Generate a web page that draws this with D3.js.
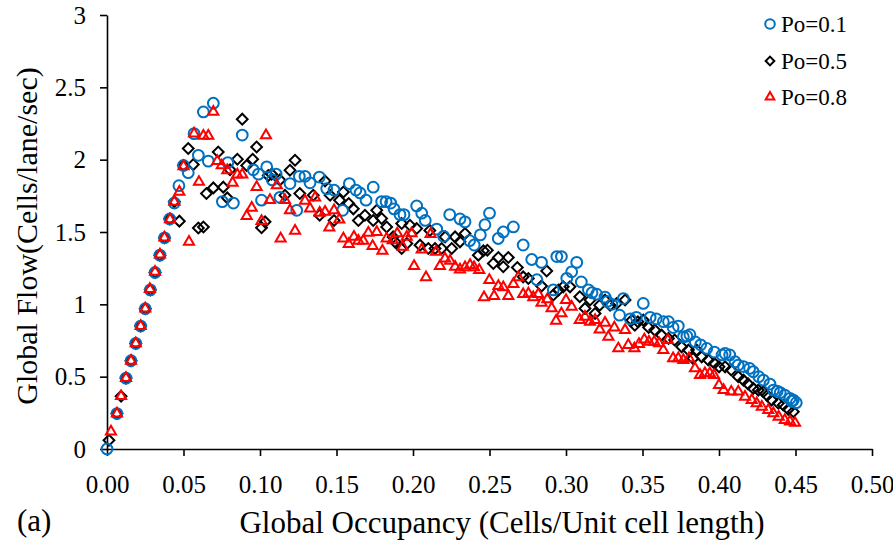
<!DOCTYPE html>
<html>
<head>
<meta charset="utf-8">
<script src="https://cdn.jsdelivr.net/npm/d3@7"></script>
<style>
  body { margin: 0; background: #fff; }
  text { font-family: "Liberation Serif", "Times New Roman", serif; }
</style>
</head>
<body>
<div id="chart"></div>
<script>
// [occupancy, flow] pairs
const po01 = [
  [0, 0], [0.0065, 0.245], [0.0124, 0.49], [0.0157, 0.61], [0.0188, 0.73], [0.022, 0.85],
  [0.025, 0.97], [0.0283, 1.10], [0.0314, 1.22], [0.0346, 1.34], [0.0376, 1.46], [0.041, 1.59],
  [0.044, 1.70], [0.047, 1.82], [0.050, 1.96], [0.0531, 1.91], [0.0569, 2.18], [0.0597, 2.03],
  [0.063, 2.33], [0.0662, 1.99], [0.0695, 2.39], [0.0754, 1.71], [0.079, 1.98], [0.0826, 1.70],
  [0.0884, 2.17], [0.0956, 1.93], [0.099, 1.90], [0.101, 1.72], [0.1044, 1.95], [0.108, 1.86],
  [0.1105, 1.90], [0.113, 1.74], [0.1196, 1.835], [0.124, 1.65], [0.1257, 1.885], [0.1294, 1.885],
  [0.1327, 1.84], [0.1388, 1.88], [0.1436, 1.80], [0.1484, 1.79], [0.154, 1.65], [0.1584, 1.835],
  [0.1627, 1.79], [0.1654, 1.77], [0.1693, 1.72], [0.174, 1.81], [0.1795, 1.71], [0.1824, 1.71],
  [0.1854, 1.70], [0.1876, 1.66], [0.1915, 1.62], [0.1941, 1.62], [0.2024, 1.68], [0.2057, 1.63],
  [0.208, 1.58], [0.2155, 1.52], [0.22, 1.47], [0.224, 1.62], [0.2307, 1.59], [0.234, 1.57],
  [0.237, 1.44], [0.240, 1.41], [0.244, 1.48], [0.247, 1.55], [0.250, 1.63], [0.2557, 1.455],
  [0.259, 1.50], [0.2656, 1.535], [0.272, 1.41], [0.2776, 1.31], [0.281, 1.17], [0.284, 1.29],
  [0.2917, 1.10], [0.294, 1.33], [0.297, 1.33], [0.3005, 1.18], [0.3037, 1.225], [0.307, 1.29],
  [0.310, 1.155], [0.3146, 1.10], [0.317, 1.08], [0.320, 1.07], [0.3255, 1.05], [0.327, 1.02],
  [0.330, 1.00], [0.335, 0.925], [0.3375, 1.04], [0.342, 0.90], [0.346, 0.91], [0.3505, 1.006],
  [0.355, 0.91], [0.359, 0.90], [0.3636, 0.88], [0.367, 0.88], [0.370, 0.84], [0.3734, 0.85],
  [0.3767, 0.775], [0.379, 0.78], [0.381, 0.79], [0.3845, 0.74], [0.388, 0.72], [0.392, 0.695],
  [0.397, 0.67], [0.402, 0.65], [0.404, 0.66], [0.407, 0.65], [0.4105, 0.603], [0.4125, 0.58],
  [0.416, 0.57], [0.420, 0.557], [0.4224, 0.534], [0.426, 0.50], [0.429, 0.476], [0.4333, 0.449],
  [0.4355, 0.407], [0.438, 0.40], [0.440, 0.39], [0.443, 0.373], [0.4464, 0.35], [0.4475, 0.33],
  [0.4486, 0.338], [0.4505, 0.32]
];

const po05 = [
  [0.0013, 0.06], [0.0065, 0.245], [0.0092, 0.365], [0.0124, 0.49], [0.0157, 0.61], [0.0188, 0.73],
  [0.022, 0.85], [0.025, 0.97], [0.0283, 1.10], [0.0314, 1.22], [0.0346, 1.34], [0.0376, 1.46],
  [0.041, 1.59], [0.044, 1.71], [0.0473, 1.575], [0.05, 1.96], [0.0531, 2.077], [0.0564, 1.966],
  [0.0597, 1.528], [0.063, 1.535], [0.065, 1.766], [0.0695, 1.805], [0.0727, 2.053], [0.076, 1.81],
  [0.0786, 1.736], [0.0804, 1.93], [0.0852, 2.003], [0.0884, 2.28], [0.0913, 1.96], [0.0952, 2.003],
  [0.0978, 2.088], [0.101, 1.53], [0.1033, 1.57], [0.1054, 1.89], [0.1076, 1.90], [0.113, 1.86],
  [0.1163, 1.754], [0.1196, 1.927], [0.1229, 1.996], [0.126, 1.766], [0.1348, 1.754], [0.139, 1.616],
  [0.1425, 1.853], [0.1458, 1.754], [0.1484, 1.58], [0.152, 1.72], [0.1545, 1.777], [0.158, 1.697],
  [0.161, 1.66], [0.1643, 1.58], [0.1686, 1.616], [0.174, 1.58], [0.1763, 1.65], [0.1795, 1.593],
  [0.1828, 1.535], [0.187, 1.466], [0.1882, 1.432], [0.1926, 1.559], [0.1926, 1.386], [0.196, 1.42],
  [0.198, 1.547], [0.2024, 1.524], [0.2046, 1.409], [0.210, 1.386], [0.211, 1.51], [0.2144, 1.386],
  [0.2187, 1.386], [0.221, 1.466], [0.2253, 1.386], [0.2275, 1.466], [0.2307, 1.432], [0.234, 1.49],
  [0.2427, 1.34], [0.246, 1.37], [0.2486, 1.374], [0.2525, 1.282], [0.2558, 1.324], [0.259, 1.26],
  [0.2623, 1.324], [0.2682, 1.255], [0.272, 1.19], [0.2754, 1.179], [0.284, 1.126], [0.2874, 1.231],
  [0.2917, 1.064], [0.295, 1.098], [0.2982, 1.121], [0.3026, 1.121], [0.309, 1.052], [0.3124, 0.972],
  [0.3157, 1.03], [0.319, 0.937], [0.322, 0.994], [0.3255, 1.03], [0.3288, 0.994], [0.3331, 1.006],
  [0.3386, 1.03], [0.343, 0.89], [0.345, 0.856], [0.347, 0.88], [0.3505, 0.891], [0.354, 0.84],
  [0.358, 0.822], [0.3625, 0.787], [0.367, 0.764], [0.371, 0.753], [0.3756, 0.706], [0.38, 0.684],
  [0.383, 0.626], [0.3854, 0.684], [0.3887, 0.637], [0.393, 0.615], [0.397, 0.592], [0.40, 0.568],
  [0.404, 0.568], [0.408, 0.546], [0.4126, 0.50], [0.416, 0.476], [0.419, 0.45], [0.4224, 0.419],
  [0.4257, 0.407], [0.429, 0.396], [0.4315, 0.37], [0.4344, 0.338], [0.4388, 0.316], [0.442, 0.304],
  [0.4453, 0.274], [0.4486, 0.258]
];

const po08 = [
  [0.0026, 0.12], [0.0065, 0.245], [0.0092, 0.365], [0.0124, 0.49], [0.0157, 0.61], [0.0188, 0.73],
  [0.022, 0.85], [0.025, 0.97], [0.028, 1.105], [0.0314, 1.224], [0.0346, 1.344], [0.0375, 1.462],
  [0.0412, 1.588], [0.044, 1.708], [0.0473, 1.777], [0.05, 1.954], [0.0536, 1.432], [0.0569, 2.18],
  [0.0601, 1.846], [0.063, 2.164], [0.0662, 2.164], [0.0695, 2.33], [0.0721, 1.99], [0.075, 1.96],
  [0.0786, 1.927], [0.0821, 1.84], [0.0852, 1.897], [0.0884, 1.897], [0.0913, 1.61], [0.0946, 1.667],
  [0.0978, 1.81], [0.101, 1.575], [0.1039, 2.168], [0.1065, 1.72], [0.111, 1.823], [0.1135, 1.455],
  [0.1163, 1.72], [0.1196, 1.65], [0.1229, 1.508], [0.1294, 1.715], [0.1327, 1.662], [0.136, 1.738],
  [0.139, 1.632], [0.1425, 1.64], [0.1453, 1.531], [0.1484, 1.65], [0.1518, 1.586], [0.1545, 1.455],
  [0.158, 1.416], [0.1614, 1.466], [0.1643, 1.439], [0.1675, 1.439], [0.1708, 1.494], [0.1736, 1.402],
  [0.1763, 1.50], [0.180, 1.37], [0.1828, 1.455], [0.1867, 1.443], [0.1897, 1.49], [0.1933, 1.397],
  [0.1959, 1.466], [0.1991, 1.49], [0.2007, 1.264], [0.2057, 1.379], [0.2085, 1.186], [0.2115, 1.485],
  [0.215, 1.363], [0.2176, 1.264], [0.2209, 1.317], [0.2242, 1.30], [0.2275, 1.259], [0.2307, 1.241],
  [0.234, 1.255], [0.2373, 1.271], [0.2399, 1.255], [0.2433, 1.236], [0.2464, 1.048], [0.2499, 1.167],
  [0.253, 1.057], [0.2558, 1.126], [0.259, 1.117], [0.2623, 1.057], [0.2656, 1.14], [0.2688, 1.186],
  [0.272, 1.07], [0.2754, 1.075], [0.2786, 1.048], [0.2819, 1.07], [0.284, 1.01], [0.2878, 1.034],
  [0.2906, 0.972], [0.2935, 0.886], [0.297, 0.937], [0.300, 1.03], [0.3037, 0.983], [0.309, 0.891],
  [0.3124, 0.914], [0.3157, 0.879], [0.319, 0.891], [0.322, 0.826], [0.3255, 0.872], [0.3277, 0.776],
  [0.3316, 0.84], [0.3342, 0.695], [0.3386, 0.822], [0.3407, 0.718], [0.3447, 0.695], [0.3477, 0.725],
  [0.3512, 0.757], [0.3542, 0.741], [0.3577, 0.741], [0.3608, 0.73], [0.3636, 0.684], [0.3665, 0.753],
  [0.370, 0.626], [0.3734, 0.626], [0.3767, 0.615], [0.3804, 0.626], [0.3843, 0.557], [0.3876, 0.511],
  [0.3908, 0.523], [0.394, 0.523], [0.3967, 0.511], [0.40, 0.442], [0.403, 0.407], [0.408, 0.396],
  [0.4126, 0.396], [0.417, 0.361], [0.4214, 0.338], [0.4246, 0.316], [0.428, 0.292], [0.4322, 0.269],
  [0.4355, 0.246], [0.439, 0.223], [0.443, 0.20], [0.4464, 0.189], [0.4497, 0.18]
];

const seriesNames = ["Po=0.1", "Po=0.5", "Po=0.8"];
const xTicks = [0, 0.05, 0.1, 0.15, 0.2, 0.25, 0.3, 0.35, 0.4, 0.45, 0.5];
const yTicks = [0, 0.5, 1, 1.5, 2, 2.5, 3];

const w = 893, h = 547;
const padLeft = 107, padRight = 872, padTop = 15, padBottom = 449;
const serif = "'Liberation Serif', 'Times New Roman', serif";

const svg = d3.select("#chart").append("svg")
  .attr("width", w)
  .attr("height", h)
  .style("background-color", "#fff");

const xScale = d3.scaleLinear().domain([0, 0.5]).range([padLeft, padRight]);
const yScale = d3.scaleLinear().domain([0, 3]).range([padBottom, padTop]);

const xAxis = d3.axisBottom(xScale).tickValues(xTicks).tickFormat(d3.format(".2f")).tickSize(7).tickSizeOuter(0).tickPadding(19);
const yAxis = d3.axisLeft(yScale).tickValues(yTicks).tickFormat(d => String(d)).tickSize(7).tickSizeOuter(0).tickPadding(14);

const gx = svg.append("g").attr("transform", "translate(0," + padBottom + ")").call(xAxis);
const gy = svg.append("g").attr("transform", "translate(" + padLeft + ",0)").call(yAxis);
[gx, gy].forEach(g => {
  g.select(".domain").attr("stroke", "#000").attr("stroke-width", 1.6);
  g.selectAll(".tick line").attr("stroke", "#000").attr("stroke-width", 1.6);
  g.selectAll(".tick text").attr("fill", "#000").style("font-size", "25px")
    .style("font-family", serif);
});

// markers
const circleColor = "#0070C0", triColor = "#FF0000";
const diamond = d3.symbol().type(d3.symbolSquare).size(58);

svg.append("g").selectAll("path")
  .data(po05).enter().append("path")
  .attr("d", diamond)
  .attr("transform", d => "translate(" + xScale(d[0]) + "," + yScale(d[1]) + ") rotate(45)")
  .attr("fill", "none").attr("stroke", "#000").attr("stroke-width", 2);

svg.append("g").selectAll("circle")
  .data(po01).enter().append("circle")
  .attr("cx", d => xScale(d[0]))
  .attr("cy", d => yScale(d[1]))
  .attr("r", 5.4)
  .attr("fill", "none").attr("stroke", circleColor).attr("stroke-width", 2);

const tri = d3.symbol().type(d3.symbolTriangle).size(44);
svg.append("g").selectAll("path")
  .data(po08).enter().append("path")
  .attr("d", tri)
  .attr("transform", d => "translate(" + xScale(d[0]) + "," + yScale(d[1]) + ")")
  .attr("fill", "none").attr("stroke", triColor).attr("stroke-width", 2);

// legend
const legend = svg.append("g").attr("transform", "translate(770,0)");
const legY = [24, 61, 97];
legend.append("circle").attr("cx", 0).attr("cy", legY[0]).attr("r", 4.8)
  .attr("fill", "none").attr("stroke", circleColor).attr("stroke-width", 2);
legend.append("path").attr("d", d3.symbol().type(d3.symbolSquare).size(38))
  .attr("transform", "translate(0," + legY[1] + ") rotate(45)")
  .attr("fill", "none").attr("stroke", "#000").attr("stroke-width", 2);
legend.append("path").attr("d", d3.symbol().type(d3.symbolTriangle).size(32))
  .attr("transform", "translate(0," + legY[2] + ")")
  .attr("fill", "none").attr("stroke", triColor).attr("stroke-width", 2);
legend.selectAll("text.leg").data(seriesNames).enter().append("text")
  .attr("class", "leg")
  .attr("x", 11)
  .attr("y", (d, i) => legY[i] + 8)
  .style("font-size", "23px")
  .text(d => d);

// titles
svg.append("text")
  .attr("transform", "translate(37," + 236 + ") rotate(-90)")
  .attr("text-anchor", "middle")
  .style("font-size", "30px")
  .text("Global Flow(Cells/lane/sec)");

svg.append("text")
  .attr("x", 502).attr("y", 533)
  .attr("text-anchor", "middle")
  .style("font-size", "31px")
  .text("Global Occupancy (Cells/Unit cell length)");

svg.append("text")
  .attr("x", 17).attr("y", 531)
  .style("font-size", "31px")
  .text("(a)");
</script>
</body>
</html>
